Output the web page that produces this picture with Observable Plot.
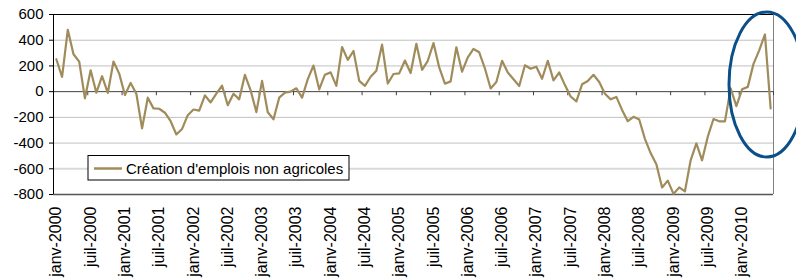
<!DOCTYPE html>
<html>
<head>
<meta charset="utf-8">
<script src="https://cdn.jsdelivr.net/npm/d3@7"></script>
<script src="https://cdn.jsdelivr.net/npm/@observablehq/plot@0.6"></script>
<style>
  html, body { margin: 0; padding: 0; background: #fff; }
  #chart svg { display: block; }
</style>
</head>
<body>
<div id="chart"></div>
<script>
// Monthly values, janv-2000 .. juin-2010 (thousands)
const values = [
  252, 114, 481, 291, 234, -52, 166, -8, 120, -10, 234, 140,
  -26, 68, -16, -286, -47, -130, -133, -164, -230, -333, -290, -183,
  -139, -147, -29, -84, -15, 46, -106, -17, -60, 131, 10, -159,
  84, -160, -215, -47, -8, 0, 26, -47, 97, 203, 18, 132,
  150, 45, 347, 247, 316, 84, 45, 116, 163, 366, 63, 137,
  142, 242, 145, 372, 170, 240, 378, 188, 62, 80, 345, 155,
  266, 332, 306, 180, 25, 75, 240, 149, 96, 44, 205, 178,
  194, 100, 240, 88, 149, 51, -38, -76, 57, 83, 131, 75,
  -17, -60, -41, -142, -230, -196, -217, -367, -478, -564, -745, -692,
  -795, -745, -776, -534, -403, -534, -350, -213, -231, -231, 25, -113,
  18, 37, 216, 321, 445, -130
];
const monthNames = ["janv","févr","mars","avr","mai","juin","juil","août","sept","oct","nov","déc"];
const firstYear = 2000;
const categories = values.map((_, i) => monthNames[i % 12] + "-" + (firstYear + Math.floor(i / 12)));
const xTickLabels = ["janv-2000","juil-2000","janv-2001","juil-2001","janv-2002","juil-2002",
  "janv-2003","juil-2003","janv-2004","juil-2004","janv-2005","juil-2005","janv-2006","juil-2006",
  "janv-2007","juil-2007","janv-2008","juil-2008","janv-2009","juil-2009","janv-2010"];
const yTicks = [-800, -600, -400, -200, 0, 200, 400, 600];
const gridValues = [400, 200, -200, -400];
const seriesName = "Création d'emplois non agricoles";
// Annotation ellipse (in data units: category position, value)
const ellipseCenter = {x: 124.9, y: 52};
const ellipseRadius = {x: 6.6, y: 564};

const data = values.map((v, i) => ({i, v, label: categories[i]}));
const n = values.length;
const labelPos = xTickLabels.map(l => categories.indexOf(l) + 0.5);
const tickPos = d3.range(6, n + 1, 6);

const lineColor = "#a08b5b";
const font = "'Liberation Sans', Arial, sans-serif";

const ellipseMark = (index, scales) => {
  const {x, y} = scales;
  const cx = x(ellipseCenter.x), cy = y(ellipseCenter.y);
  const rx = x(ellipseCenter.x + ellipseRadius.x) - cx;
  const ry = y(ellipseCenter.y - ellipseRadius.y) - cy;
  const g = d3.create("svg:g");
  g.append("ellipse").attr("cx", cx).attr("cy", cy).attr("rx", rx).attr("ry", ry)
    .attr("fill", "none").attr("stroke", "#0b4f8a").attr("stroke-width", 3);
  return g.node();
};

const chart = Plot.plot({
  width: 796,
  height: 280,
  marginLeft: 53,
  marginRight: 23,
  marginTop: 14,
  marginBottom: 86,
  style: {fontFamily: font, fontSize: "15px", color: "#000", background: "#fff", overflow: "visible"},
  x: {type: "linear", domain: [0, n], axis: null},
  y: {domain: [-800, 600], axis: null},
  marks: [
    Plot.ruleY(gridValues, {stroke: "#c0c0c0", strokeOpacity: 1}),
    Plot.ruleY([-600], {stroke: "#d9d9d9", strokeOpacity: 1, strokeWidth: 2}),
    Plot.ruleY([600], {stroke: "#000", strokeOpacity: 1}),
    Plot.ruleY([-800], {stroke: "#555", strokeOpacity: 1, strokeWidth: 1.5}),
    Plot.ruleX([n], {stroke: "#808080", strokeOpacity: 1}),
    Plot.ruleY([0], {stroke: "#404040", strokeOpacity: 1}),
    Plot.ruleX(tickPos, {y1: 0, y2: -32, stroke: "#404040", strokeOpacity: 1}),
    Plot.axisY({ticks: yTicks, tickSize: 4, tickPadding: 6, fontSize: 15, label: null, tickFormat: d => String(d)}),
    Plot.ruleX([0], {stroke: "#000", strokeOpacity: 1}),
    Plot.line(data, {x: d => d.i + 0.5, y: "v", stroke: lineColor, strokeWidth: 2.2}),
    Plot.axisX({ticks: labelPos, tickFormat: d => categories[Math.round(d - 0.5)], tickRotate: -90,
      tickSize: 0, tickPadding: 12, fontSize: 16, label: null, anchor: "bottom"}),
    ellipseMark
  ]
});

const svg = d3.select(chart);
const lg = svg.append("g").attr("font-family", font).attr("font-size", 15).attr("text-anchor", "start");
lg.append("rect").attr("x", 88).attr("y", 155.5).attr("width", 261).attr("height", 24.5)
  .attr("fill", "#fff").attr("stroke", "#000").attr("stroke-width", 1);
lg.append("line").attr("x1", 94).attr("x2", 122).attr("y1", 168.5).attr("y2", 168.5)
  .attr("stroke", lineColor).attr("stroke-width", 2.5);
lg.append("text").attr("x", 126).attr("y", 168.5).attr("dy", "0.35em").attr("fill", "#000").text(seriesName);

document.getElementById("chart").appendChild(chart);
</script>
</body>
</html>
